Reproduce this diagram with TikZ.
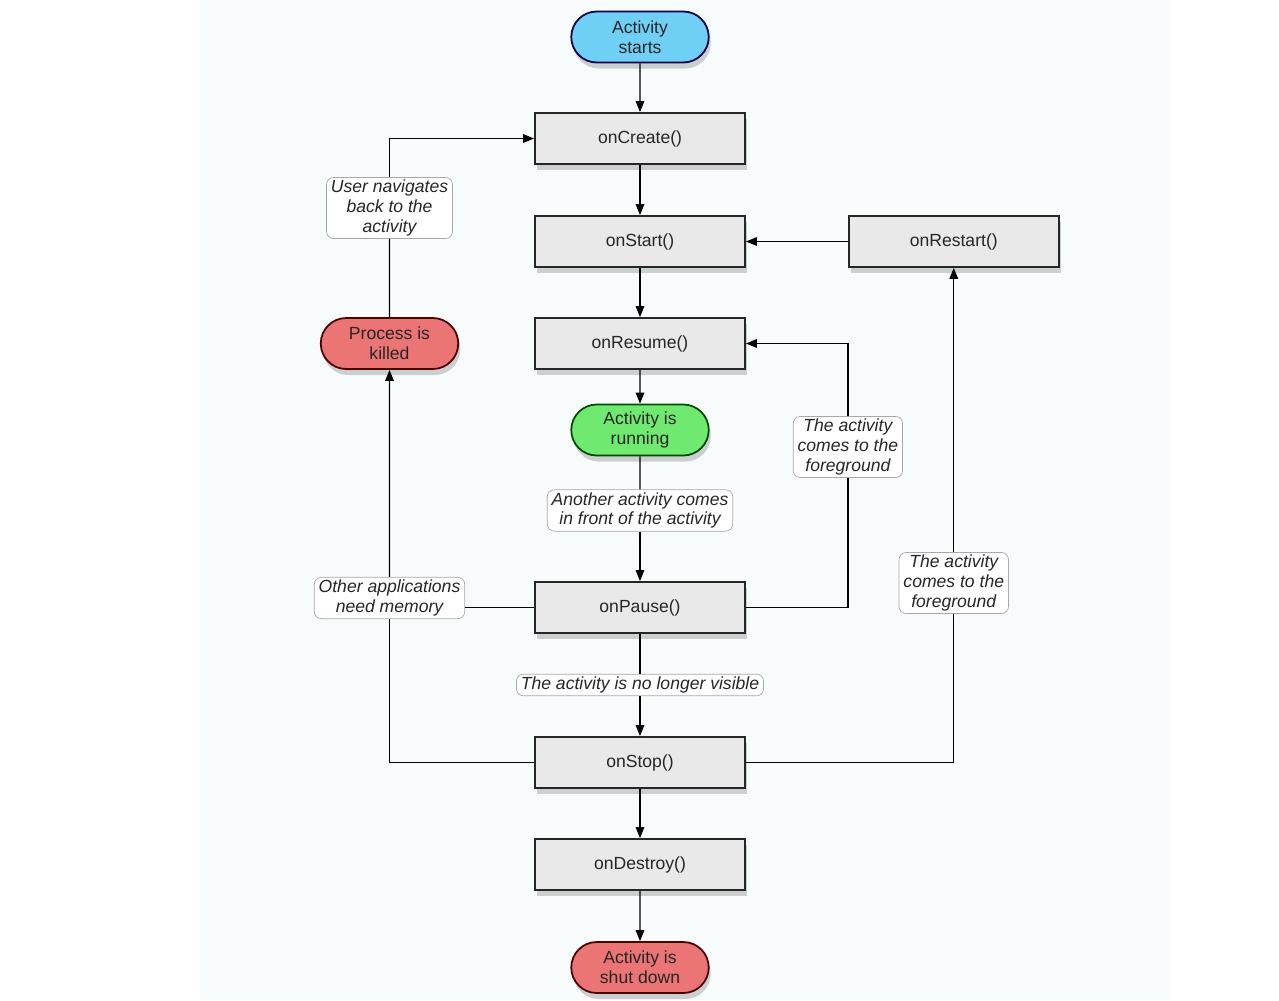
\documentclass[tikz,border=0pt]{standalone}
\usepackage{fontspec}
\setmainfont{Liberation Sans}
\usepackage{xcolor}
\usepackage{tikz}
\usetikzlibrary{arrows.meta,positioning,shapes.misc,shadows}

\definecolor{pagebg}{HTML}{F8FBFC}
\definecolor{boxgray}{HTML}{E9E9E9}
\definecolor{startblue}{HTML}{6FCFF5}
\definecolor{rungreen}{HTML}{70E970}
\definecolor{stopred}{HTML}{EB7474}
\definecolor{lblframe}{HTML}{A8A8A8}

\begin{document}
\begin{tikzpicture}[
  font=\fontsize{10}{11.6}\selectfont,
  shade/.style={drop shadow={shadow xshift=0.4mm,shadow yshift=-1.2mm,opacity=0.25,fill=black!70}},
  callbox/.style={rectangle,draw=black!85,line width=1pt,fill=boxgray,minimum width=4.2cm,minimum height=1.02cm,text=black!85,shade},
  state/.style={rounded rectangle,line width=1pt,minimum width=2.82cm,minimum height=1.02cm,align=center,inner sep=1pt,text=black!85,shade},
  lbl/.style={rectangle,rounded corners=4pt,draw=lblframe,fill=white,align=center,font=\fontsize{10}{11.2}\selectfont\itshape,inner xsep=2.5pt,inner ysep=1.5pt,text=black!85},
  line/.style={line width=0.8pt,black},
  arr/.style={line,-{Triangle[length=2.2mm,width=1.7mm]}}
]
\fill[white] (0,0) rectangle (25.58,-20);
\fill[pagebg] (4.0,0) rectangle (23.4,-20);
\useasboundingbox (0,0) rectangle (25.58,-20);

% main column
\node[state,fill=startblue,draw=black!70!blue] (starts) at (12.8,-0.74) {Activity\\starts};
\node[callbox] (create) at (12.8,-2.77) {onCreate()};
\node[callbox] (start) at (12.8,-4.83) {onStart()};
\node[callbox] (resume) at (12.8,-6.87) {onResume()};
\node[state,fill=rungreen,draw=black!70!green] (running) at (12.8,-8.6) {Activity is\\running};
\node[lbl] (another) at (12.8,-10.21) {Another activity comes\\in front of the activity};
\node[callbox] (pause) at (12.8,-12.15) {onPause()};
\node[lbl] (novisible) at (12.8,-13.7) {The activity is no longer visible};
\node[callbox] (stop) at (12.8,-15.25) {onStop()};
\node[callbox] (destroy) at (12.8,-17.29) {onDestroy()};
\node[state,fill=stopred,draw=black!70!red] (shutdown) at (12.8,-19.35) {Activity is\\shut down};

% side nodes
\node[callbox,right=2.04cm of start] (restart) {onRestart()};
\node[state,fill=stopred,draw=black!70!red,left=1.5cm of resume] (killed) {Process is\\killed};
\node[lbl] (usernav) at (killed |- 0,-4.16) {User navigates\\back to the\\activity};
\node[lbl] (other) at (killed |- 0,-11.96) {Other applications\\need memory};
\node[lbl] (fg1) at (restart.west |- 0,-8.94) {The activity\\comes to the\\foreground};
\node[lbl] (fg2) at (restart |- 0,-11.66) {The activity\\comes to the\\foreground};

% straight flow
\draw[arr] (starts) -- (create);
\draw[arr] (create) -- (start);
\draw[arr] (start) -- (resume);
\draw[arr] (resume) -- (running);
\draw[line] (running) -- (another);
\draw[arr] (another) -- (pause);
\draw[line] (pause) -- (novisible);
\draw[arr] (novisible) -- (stop);
\draw[arr] (stop) -- (destroy);
\draw[arr] (destroy) -- (shutdown);

% loops back
\draw[arr] (restart) -- (start);
\draw[line] (stop.east) -| (fg2);
\draw[arr] (fg2) -- (restart);
\draw[line] (pause.east) -| (fg1);
\draw[arr] (fg1) |- (resume.east);
\draw[line] (stop.west) -| (other);
\draw[line] (pause.west) -- (pause.west -| other.east);
\draw[arr] (other) -- (killed);
\draw[line] (killed) -- (usernav);
\draw[arr] (usernav) |- (create.west);
\end{tikzpicture}
\end{document}
